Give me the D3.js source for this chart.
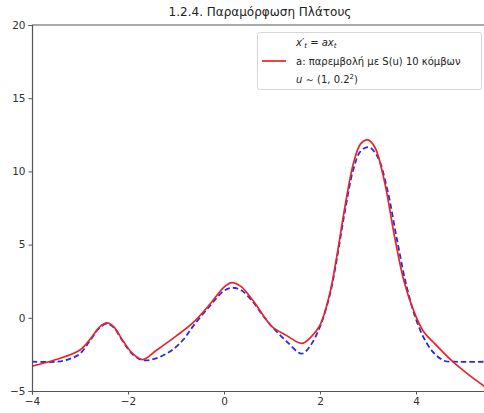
<!DOCTYPE html>
<html>
<head>
<meta charset="utf-8">
<script src="https://cdn.jsdelivr.net/npm/d3@7"></script>
<style>
  body { margin: 0; background: #fff; }
  svg { display: block; font-family: "DejaVu Sans", sans-serif; }
</style>
</head>
<body>
<script>
// fitted spline (red) and original signal (blue dashed)
var redX = [-4.0, -3.5, -3.0, -2.75, -2.6, -2.44, -2.3, -2.1, -1.9, -1.69, -1.4, -1.0, -0.65, -0.3, 0.0, 0.16, 0.35, 0.6, 0.8, 1.0, 1.3, 1.62, 1.8, 2.0, 2.2, 2.35, 2.52, 2.7, 2.85, 3.0, 3.15, 3.35, 3.55, 3.75, 3.95, 4.15, 4.4, 4.75, 5.1, 5.5];
var redY = [-3.3, -2.85, -2.2, -1.3, -0.65, -0.35, -0.6, -1.6, -2.45, -2.85, -2.2, -1.25, -0.35, 0.9, 2.1, 2.4, 2.15, 1.2, 0.25, -0.6, -1.2, -1.75, -1.35, -0.5, 1.6, 4.2, 7.6, 10.6, 11.9, 12.15, 11.6, 9.2, 5.6, 2.5, 0.5, -0.9, -1.8, -2.95, -3.9, -4.85];

var blueX = [-4.0, -3.5, -3.25, -3.0, -2.8, -2.6, -2.44, -2.3, -2.1, -1.9, -1.69, -1.4, -1.1, -0.85, -0.65, -0.3, 0.0, 0.16, 0.35, 0.6, 0.8, 1.0, 1.3, 1.62, 1.8, 2.0, 2.2, 2.35, 2.52, 2.7, 2.85, 3.02, 3.2, 3.4, 3.6, 3.8, 4.0, 4.2, 4.4, 4.6, 4.8, 5.5];
var blueY = [-3.0, -3.0, -2.85, -2.45, -1.6, -0.7, -0.4, -0.65, -1.65, -2.5, -2.9, -2.75, -2.25, -1.5, -0.6, 0.8, 1.85, 2.05, 1.9, 1.1, 0.2, -0.6, -1.6, -2.45, -1.9, -0.6, 1.5, 4.0, 7.3, 10.2, 11.4, 11.65, 11.0, 8.8, 5.4, 2.2, -0.1, -1.6, -2.5, -2.95, -3.0, -3.0];

var xTicks = [-4, -2, 0, 2, 4];
var yTicks = [-5, 0, 5, 10, 15, 20];

var W = 484, H = 413;
var mLeft = 32, mRight = 488, mTop = 25, mBottom = 391;

var svg = d3.select("body").append("svg")
    .attr("width", W)
    .attr("height", H);

var x = d3.scaleLinear().domain([-4, 5.5]).range([mLeft, mRight]);
var y = d3.scaleLinear().domain([-5, 20]).range([mBottom, mTop]);

// clip the lines to the axes box
svg.append("clipPath").attr("id", "plotclip")
  .append("rect")
    .attr("x", mLeft).attr("y", mTop)
    .attr("width", mRight - mLeft).attr("height", mBottom - mTop);

var line = d3.line()
    .x(d => x(d[0]))
    .y(d => y(d[1]))
    .curve(d3.curveCatmullRom.alpha(0.5));

var bluePts = blueX.map((v, i) => [v, blueY[i]]);
var redPts = redX.map((v, i) => [v, redY[i]]);

svg.append("path")
    .attr("clip-path", "url(#plotclip)")
    .attr("d", line(bluePts))
    .attr("fill", "none")
    .attr("stroke", "#2b2bd9")
    .attr("stroke-width", 1.8)
    .attr("stroke-dasharray", "5.5,3");

svg.append("path")
    .attr("clip-path", "url(#plotclip)")
    .attr("d", line(redPts))
    .attr("fill", "none")
    .attr("stroke", "#e8242a")
    .attr("stroke-width", 1.7);

// axes
var xAxis = d3.axisBottom(x).tickValues(xTicks).tickSize(3.5).tickPadding(3)
    .tickFormat(d => d < 0 ? "\u2212" + Math.abs(d) : d);
var yAxis = d3.axisLeft(y).tickValues(yTicks).tickSize(3.5).tickPadding(3)
    .tickFormat(d => d < 0 ? "\u2212" + Math.abs(d) : d);

var gx = svg.append("g").attr("transform", "translate(0," + mBottom + ")").call(xAxis);
var gy = svg.append("g").attr("transform", "translate(" + mLeft + ",0)").call(yAxis);

[gx, gy].forEach(g => {
  g.select(".domain").attr("stroke", "#555").attr("stroke-width", 1.2);
  g.selectAll(".tick line").attr("stroke", "#555");
  g.selectAll(".tick text").attr("fill", "#333").attr("font-size", 10.5)
    .attr("font-family", "DejaVu Sans, sans-serif");
});

// top spine
svg.append("line")
    .attr("x1", mLeft).attr("x2", mRight)
    .attr("y1", mTop).attr("y2", mTop)
    .attr("stroke", "#555").attr("stroke-width", 1.2);

// title
svg.append("text")
    .attr("x", (mLeft + mRight) / 2)
    .attr("y", 16)
    .attr("text-anchor", "middle")
    .attr("font-size", 12)
    .attr("fill", "#222")
    .text("1.2.4. Παραμόρφωση Πλάτους");

// legend
var lg = svg.append("g");
lg.append("rect")
    .attr("x", 257.5).attr("y", 32.5)
    .attr("width", 224).attr("height", 57)
    .attr("rx", 2)
    .attr("fill", "#fff")
    .attr("stroke", "#d6d6d6");

lg.append("line")
    .attr("x1", 262).attr("x2", 286)
    .attr("y1", 61).attr("y2", 61)
    .attr("stroke", "#e8242a").attr("stroke-width", 1.7);

var t1 = lg.append("text").attr("x", 296).attr("y", 46).attr("font-size", 10).attr("fill", "#222");
t1.append("tspan").attr("font-style", "italic").text("x\u2032");
t1.append("tspan").attr("font-size", 7).attr("font-style", "italic").attr("dy", 2).text("t");
t1.append("tspan").attr("dy", -2).text(" = ");
t1.append("tspan").attr("font-style", "italic").text("ax");
t1.append("tspan").attr("font-size", 7).attr("font-style", "italic").attr("dy", 2).text("t");

lg.append("text").attr("x", 296).attr("y", 65).attr("font-size", 10).attr("fill", "#222")
    .text("a: παρεμβολή με S(u) 10 κόμβων");

var t3 = lg.append("text").attr("x", 296).attr("y", 83).attr("font-size", 10).attr("fill", "#222");
t3.append("tspan").attr("font-style", "italic").text("u");
t3.append("tspan").text(" \u223C (1, 0.2");
t3.append("tspan").attr("font-size", 7).attr("dy", -4).text("2");
t3.append("tspan").attr("dy", 4).text(")");
</script>
</body>
</html>
